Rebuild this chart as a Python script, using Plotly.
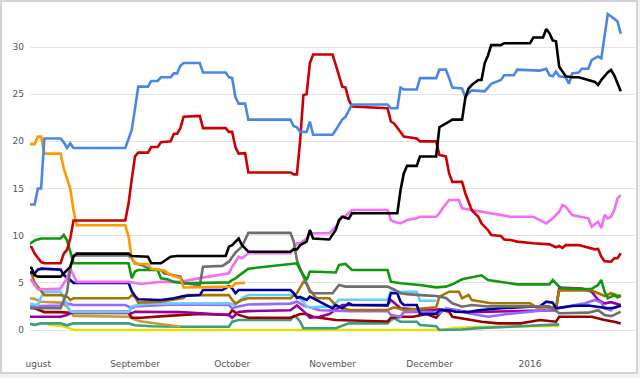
import plotly.graph_objects as go

# ---------------- data (date, polling %) ----------------
blue_series = [
    ("2015-07-30", 13.3), ("2015-08-01", 13.3), ("2015-08-02", 15.0), ("2015-08-03", 15.0),
    ("2015-08-04", 20.3), ("2015-08-09", 20.3), ("2015-08-10", 19.9), ("2015-08-11", 19.3),
    ("2015-08-12", 19.8), ("2015-08-13", 19.3), ("2015-08-29", 19.3), ("2015-08-31", 21.2),
    ("2015-09-01", 23.5), ("2015-09-02", 25.8), ("2015-09-05", 25.8), ("2015-09-06", 26.4),
    ("2015-09-08", 26.4), ("2015-09-09", 26.8), ("2015-09-12", 26.8), ("2015-09-13", 27.2),
    ("2015-09-14", 27.2), ("2015-09-15", 28.0), ("2015-09-16", 28.3), ("2015-09-21", 28.3),
    ("2015-09-22", 27.3), ("2015-09-29", 27.3), ("2015-09-30", 26.8), ("2015-10-01", 26.7),
    ("2015-10-02", 24.7), ("2015-10-03", 24.0), ("2015-10-05", 24.0), ("2015-10-06", 22.3),
    ("2015-10-19", 22.3), ("2015-10-20", 21.6), ("2015-10-21", 21.5), ("2015-10-22", 21.0),
    ("2015-10-24", 21.0), ("2015-10-25", 22.1), ("2015-10-26", 20.7), ("2015-11-01", 20.7),
    ("2015-11-02", 21.2), ("2015-11-04", 22.3), ("2015-11-05", 22.6), ("2015-11-07", 23.9),
    ("2015-11-18", 23.9), ("2015-11-19", 23.5), ("2015-11-21", 23.5), ("2015-11-22", 25.7),
    ("2015-11-23", 25.5), ("2015-11-27", 25.5), ("2015-11-28", 26.7), ("2015-12-03", 26.7),
    ("2015-12-04", 27.6), ("2015-12-06", 27.6), ("2015-12-07", 26.7), ("2015-12-08", 25.7),
    ("2015-12-11", 25.6), ("2015-12-12", 24.7), ("2015-12-13", 25.1), ("2015-12-14", 25.4),
    ("2015-12-18", 25.3), ("2015-12-20", 26.1), ("2015-12-23", 26.5), ("2015-12-24", 27.0),
    ("2015-12-27", 27.0), ("2015-12-28", 27.6), ("2016-01-04", 27.5), ("2016-01-06", 27.7),
    ("2016-01-07", 27.0), ("2016-01-08", 26.9), ("2016-01-09", 27.4), ("2016-01-10", 26.9),
    ("2016-01-12", 26.8), ("2016-01-13", 26.1), ("2016-01-14", 27.2), ("2016-01-16", 27.3),
    ("2016-01-17", 27.7), ("2016-01-19", 27.7), ("2016-01-20", 28.6), ("2016-01-22", 29.0),
    ("2016-01-23", 28.8), ("2016-01-25", 33.5), ("2016-01-27", 33.0), ("2016-01-28", 32.7),
    ("2016-01-29", 31.4),
]

red_series = [
    ("2015-07-30", 8.8), ("2015-07-31", 8.8), ("2015-08-01", 8.1), ("2015-08-03", 7.2),
    ("2015-08-04", 7.07), ("2015-08-09", 7.07), ("2015-08-10", 8.1), ("2015-08-11", 8.5),
    ("2015-08-12", 9.7), ("2015-08-13", 11.6), ("2015-08-29", 11.6), ("2015-08-30", 13.4),
    ("2015-08-31", 16.0), ("2015-09-01", 18.4), ("2015-09-02", 18.8), ("2015-09-05", 18.8),
    ("2015-09-06", 19.4), ("2015-09-08", 19.4), ("2015-09-09", 19.9), ("2015-09-12", 20.0),
    ("2015-09-13", 20.8), ("2015-09-14", 20.8), ("2015-09-15", 21.4), ("2015-09-16", 22.6),
    ("2015-09-21", 22.7), ("2015-09-22", 21.4), ("2015-09-29", 21.4), ("2015-09-30", 21.0),
    ("2015-10-01", 21.0), ("2015-10-02", 19.4), ("2015-10-03", 18.7), ("2015-10-05", 18.75),
    ("2015-10-06", 16.7), ("2015-10-19", 16.7), ("2015-10-20", 16.5), ("2015-10-21", 16.5),
    ("2015-10-22", 20.1), ("2015-10-23", 24.9), ("2015-10-24", 25.0), ("2015-10-25", 28.3),
    ("2015-10-26", 29.2), ("2015-11-01", 29.2), ("2015-11-02", 28.1), ("2015-11-03", 26.9),
    ("2015-11-04", 25.8), ("2015-11-05", 25.7), ("2015-11-06", 24.4), ("2015-11-07", 23.7),
    ("2015-11-18", 23.5), ("2015-11-19", 22.1), ("2015-11-20", 21.9), ("2015-11-22", 21.0),
    ("2015-11-23", 20.5), ("2015-11-27", 20.3), ("2015-11-28", 20.0), ("2015-12-03", 20.0),
    ("2015-12-04", 18.55), ("2015-12-06", 18.4), ("2015-12-07", 16.6), ("2015-12-08", 15.7),
    ("2015-12-11", 15.7), ("2015-12-12", 14.5), ("2015-12-13", 13.6), ("2015-12-14", 12.7),
    ("2015-12-16", 12.0), ("2015-12-17", 11.3), ("2015-12-19", 10.6), ("2015-12-20", 10.07),
    ("2015-12-23", 9.96), ("2015-12-24", 9.6), ("2015-12-26", 9.54), ("2015-12-28", 9.37),
    ("2016-01-02", 9.19), ("2016-01-07", 9.08), ("2016-01-09", 8.77), ("2016-01-10", 8.9),
    ("2016-01-11", 8.7), ("2016-01-12", 9.0), ("2016-01-16", 9.0), ("2016-01-19", 8.77),
    ("2016-01-21", 8.55), ("2016-01-22", 8.6), ("2016-01-23", 7.77), ("2016-01-24", 7.3),
    ("2016-01-26", 7.24), ("2016-01-27", 7.6), ("2016-01-28", 7.6), ("2016-01-29", 8.13),
]

black_series = [
    ("2015-07-30", 6.6), ("2015-07-31", 6.6), ("2015-08-01", 5.8), ("2015-08-02", 5.66),
    ("2015-08-09", 5.66), ("2015-08-10", 6.0), ("2015-08-11", 6.36), ("2015-08-12", 6.7),
    ("2015-08-13", 7.8), ("2015-08-14", 8.1), ("2015-08-30", 8.1), ("2015-08-31", 7.84),
    ("2015-09-05", 7.77), ("2015-09-06", 7.07), ("2015-09-09", 7.07), ("2015-09-11", 7.49),
    ("2015-09-12", 7.77), ("2015-09-14", 7.84), ("2015-09-29", 7.84), ("2015-09-30", 8.83),
    ("2015-10-01", 9.0), ("2015-10-03", 9.7), ("2015-10-04", 9.0), ("2015-10-06", 8.3),
    ("2015-10-19", 8.3), ("2015-10-20", 8.55), ("2015-10-21", 8.55), ("2015-10-22", 9.0),
    ("2015-10-24", 9.37), ("2015-10-25", 10.6), ("2015-10-26", 9.7), ("2015-10-31", 9.6),
    ("2015-11-02", 10.6), ("2015-11-03", 11.66), ("2015-11-04", 12.0), ("2015-11-06", 11.8),
    ("2015-11-07", 12.37), ("2015-11-21", 12.37), ("2015-11-22", 14.84), ("2015-11-23", 16.6),
    ("2015-11-24", 17.4), ("2015-11-27", 17.4), ("2015-11-28", 18.4), ("2015-12-03", 18.4),
    ("2015-12-04", 21.5), ("2015-12-07", 22.1), ("2015-12-08", 22.3), ("2015-12-11", 22.3),
    ("2015-12-12", 24.6), ("2015-12-13", 25.6), ("2015-12-14", 25.97), ("2015-12-16", 26.5),
    ("2015-12-17", 26.5), ("2015-12-18", 28.3), ("2015-12-19", 29.1), ("2015-12-20", 30.2),
    ("2015-12-23", 30.2), ("2015-12-24", 30.4), ("2016-01-01", 30.4), ("2016-01-02", 31.0),
    ("2016-01-05", 31.0), ("2016-01-06", 31.9), ("2016-01-07", 31.45), ("2016-01-08", 30.7),
    ("2016-01-09", 30.6), ("2016-01-10", 27.9), ("2016-01-11", 27.4), ("2016-01-12", 26.9),
    ("2016-01-14", 26.8), ("2016-01-16", 26.8), ("2016-01-19", 26.5), ("2016-01-21", 26.3),
    ("2016-01-22", 25.97), ("2016-01-23", 26.5), ("2016-01-25", 27.3), ("2016-01-26", 27.56),
    ("2016-01-27", 27.0), ("2016-01-29", 25.3),
]

pink_series = [
    ("2015-07-30", 5.3), ("2015-07-31", 5.3), ("2015-08-01", 4.77), ("2015-08-02", 4.3),
    ("2015-08-09", 4.4), ("2015-08-11", 5.5), ("2015-08-12", 6.5), ("2015-08-13", 5.8),
    ("2015-08-14", 5.1), ("2015-08-30", 5.1), ("2015-09-01", 5.0), ("2015-09-03", 4.88),
    ("2015-09-09", 5.12), ("2015-09-15", 5.1), ("2015-09-21", 5.5), ("2015-09-30", 6.0),
    ("2015-10-01", 6.7), ("2015-10-03", 7.77), ("2015-10-04", 7.6), ("2015-10-06", 8.13),
    ("2015-10-19", 8.13), ("2015-10-20", 8.66), ("2015-10-21", 9.19), ("2015-10-22", 9.19),
    ("2015-10-24", 9.7), ("2015-10-25", 10.25), ("2015-10-31", 10.25), ("2015-11-02", 10.95),
    ("2015-11-03", 11.48), ("2015-11-04", 12.0), ("2015-11-05", 12.08), ("2015-11-07", 12.72),
    ("2015-11-18", 12.72), ("2015-11-19", 11.66), ("2015-11-20", 11.48), ("2015-11-22", 11.3),
    ("2015-11-24", 11.66), ("2015-11-27", 11.84), ("2015-11-28", 12.0), ("2015-12-03", 12.0),
    ("2015-12-04", 12.37), ("2015-12-05", 12.9), ("2015-12-07", 13.78), ("2015-12-10", 13.78),
    ("2015-12-11", 12.9), ("2015-12-14", 12.72), ("2015-12-17", 12.54), ("2015-12-20", 12.37),
    ("2015-12-23", 12.19), ("2015-12-26", 12.0), ("2016-01-02", 12.0), ("2016-01-04", 11.66),
    ("2016-01-06", 11.3), ("2016-01-08", 11.84), ("2016-01-10", 12.54), ("2016-01-11", 13.25),
    ("2016-01-12", 13.07), ("2016-01-14", 12.19), ("2016-01-17", 12.0), ("2016-01-19", 11.84),
    ("2016-01-20", 10.95), ("2016-01-22", 11.48), ("2016-01-23", 10.8), ("2016-01-24", 12.19),
    ("2016-01-25", 11.84), ("2016-01-26", 12.0), ("2016-01-27", 12.72), ("2016-01-28", 13.96),
    ("2016-01-29", 14.3),
]

green_series = [
    ("2015-07-30", 9.0), ("2015-08-01", 9.5), ("2015-08-03", 9.7), ("2015-08-09", 9.7),
    ("2015-08-10", 10.07), ("2015-08-11", 9.5), ("2015-08-12", 8.3), ("2015-08-13", 7.07),
    ("2015-08-30", 7.07), ("2015-08-31", 5.5), ("2015-09-01", 6.2), ("2015-09-02", 6.36),
    ("2015-09-08", 6.36), ("2015-09-09", 5.48), ("2015-09-11", 5.37), ("2015-09-13", 5.1),
    ("2015-09-16", 4.95), ("2015-09-30", 5.05), ("2015-10-01", 5.3), ("2015-10-02", 5.48),
    ("2015-10-04", 6.0), ("2015-10-06", 6.5), ("2015-10-19", 7.0), ("2015-10-21", 7.07),
    ("2015-10-22", 6.36), ("2015-10-24", 5.3), ("2015-10-25", 6.2), ("2015-11-02", 6.1),
    ("2015-11-03", 6.9), ("2015-11-05", 7.0), ("2015-11-07", 6.36), ("2015-11-18", 6.36),
    ("2015-11-19", 5.12), ("2015-11-22", 4.95), ("2015-11-28", 4.77), ("2015-12-03", 4.52),
    ("2015-12-06", 4.6), ("2015-12-08", 4.84), ("2015-12-11", 5.37), ("2015-12-14", 5.6),
    ("2015-12-17", 5.8), ("2015-12-19", 5.3), ("2015-12-23", 5.12), ("2015-12-26", 5.0),
    ("2015-12-28", 4.84), ("2016-01-07", 4.84), ("2016-01-08", 5.3), ("2016-01-10", 4.6),
    ("2016-01-11", 4.42), ("2016-01-17", 4.35), ("2016-01-20", 4.35), ("2016-01-22", 4.77),
    ("2016-01-23", 5.3), ("2016-01-24", 4.06), ("2016-01-25", 3.36), ("2016-01-27", 3.7),
    ("2016-01-28", 3.46), ("2016-01-29", 3.7),
]

orange_series = [
    ("2015-07-30", 19.7), ("2015-08-01", 19.7), ("2015-08-02", 20.5), ("2015-08-03", 20.5),
    ("2015-08-04", 18.7), ("2015-08-09", 18.7), ("2015-08-10", 17.1), ("2015-08-12", 15.0),
    ("2015-08-13", 12.7), ("2015-08-14", 11.1), ("2015-08-29", 11.1), ("2015-08-30", 9.9),
    ("2015-08-31", 7.6), ("2015-09-01", 7.0), ("2015-09-05", 7.0), ("2015-09-06", 6.5),
    ("2015-09-10", 6.3), ("2015-09-12", 5.83), ("2015-09-15", 5.5), ("2015-09-16", 4.5),
    ("2015-10-01", 4.6), ("2015-10-02", 4.95), ("2015-10-05", 5.0),
]

gray_series = [
    ("2015-07-30", 2.3), ("2015-08-09", 2.3), ("2015-08-11", 4.0), ("2015-08-12", 6.5),
    ("2015-08-13", 7.9), ("2015-08-30", 7.9), ("2015-08-31", 7.6), ("2015-09-01", 7.07),
    ("2015-09-03", 6.9), ("2015-09-06", 6.4), ("2015-09-09", 6.36), ("2015-09-10", 6.0),
    ("2015-09-15", 5.66), ("2015-09-16", 4.95), ("2015-09-21", 4.77), ("2015-09-22", 6.7),
    ("2015-09-28", 6.8), ("2015-09-30", 7.24), ("2015-10-02", 8.2), ("2015-10-03", 8.5),
    ("2015-10-04", 8.83), ("2015-10-06", 10.3), ("2015-10-19", 10.3), ("2015-10-20", 9.37),
    ("2015-10-21", 7.4), ("2015-10-23", 5.66), ("2015-10-25", 4.06), ("2015-10-26", 3.9),
    ("2015-11-01", 3.9), ("2015-11-03", 4.77), ("2015-11-05", 4.6), ("2015-11-18", 4.6),
    ("2015-11-20", 4.3), ("2015-11-22", 3.9), ("2015-11-24", 3.8), ("2015-11-28", 3.7),
    ("2015-12-03", 3.6), ("2015-12-06", 3.4), ("2015-12-08", 2.83), ("2015-12-11", 2.47),
    ("2015-12-14", 2.65), ("2015-12-19", 2.5), ("2016-01-07", 2.5), ("2016-01-10", 1.77),
    ("2016-01-16", 1.77), ("2016-01-19", 1.84), ("2016-01-22", 2.1), ("2016-01-24", 1.6),
    ("2016-01-26", 1.48), ("2016-01-27", 1.6), ("2016-01-29", 1.94),
]

navy_series = [
    ("2015-07-30", 6.2), ("2015-08-01", 6.0), ("2015-08-02", 6.4), ("2015-08-03", 6.5),
    ("2015-08-09", 6.4), ("2015-08-10", 5.83), ("2015-08-12", 5.3), ("2015-08-13", 5.0),
    ("2015-08-30", 5.0), ("2015-08-31", 4.1), ("2015-09-01", 3.6), ("2015-09-02", 3.25),
    ("2015-09-09", 3.18), ("2015-09-13", 3.36), ("2015-09-16", 3.6), ("2015-09-21", 3.7),
    ("2015-09-22", 4.24), ("2015-09-28", 4.24), ("2015-09-30", 4.66), ("2015-10-01", 4.42),
    ("2015-10-02", 3.9), ("2015-10-03", 4.24), ("2015-10-19", 4.24), ("2015-10-20", 3.9),
    ("2015-10-21", 3.4), ("2015-10-22", 3.5), ("2015-10-24", 3.18), ("2015-10-25", 3.53),
    ("2015-10-28", 3.0), ("2015-10-31", 2.5), ("2015-11-01", 2.3), ("2015-11-02", 2.65),
    ("2015-11-04", 2.3), ("2015-11-06", 2.83), ("2015-11-07", 2.65), ("2015-11-18", 2.6),
    ("2015-11-19", 3.9), ("2015-11-21", 3.9), ("2015-11-22", 3.0), ("2015-11-23", 2.65),
    ("2015-11-27", 2.65), ("2015-11-28", 1.7), ("2015-12-03", 1.7), ("2015-12-04", 2.1),
    ("2015-12-07", 2.1), ("2015-12-09", 1.94), ("2015-12-13", 1.9), ("2015-12-16", 2.1),
    ("2015-12-23", 2.3), ("2016-01-01", 2.47), ("2016-01-04", 2.5), ("2016-01-06", 3.0),
    ("2016-01-08", 2.9), ("2016-01-09", 2.3), ("2016-01-12", 2.4), ("2016-01-14", 2.54),
    ("2016-01-19", 2.6), ("2016-01-21", 2.5), ("2016-01-23", 2.4), ("2016-01-25", 2.3),
    ("2016-01-27", 2.35), ("2016-01-29", 2.6),
]

lightblue_series = [
    ("2015-07-30", 2.8), ("2015-08-02", 2.65), ("2015-08-03", 3.5), ("2015-08-04", 4.07),
    ("2015-08-09", 4.07), ("2015-08-10", 3.4), ("2015-08-12", 2.0), ("2015-08-13", 1.9),
    ("2015-08-30", 1.9), ("2015-08-31", 2.5), ("2015-09-02", 2.65), ("2015-09-06", 2.8),
    ("2015-09-30", 2.83), ("2015-10-02", 2.65), ("2015-10-04", 3.36), ("2015-10-06", 3.71),
    ("2015-10-19", 3.71), ("2015-10-21", 3.6), ("2015-10-23", 3.0), ("2015-10-24", 2.5),
    ("2015-10-25", 2.4), ("2015-11-01", 2.5), ("2015-11-03", 3.2), ("2015-11-18", 3.2),
    ("2015-11-19", 4.06), ("2015-11-27", 4.06), ("2015-11-28", 3.1), ("2015-12-03", 3.1),
]

lightpurple_series = [
    ("2015-07-30", 2.5), ("2015-08-09", 2.6), ("2015-08-10", 2.9), ("2015-08-13", 2.65),
    ("2015-08-29", 2.65), ("2015-08-31", 2.3), ("2015-09-01", 2.5), ("2015-09-13", 2.7),
    ("2015-09-30", 2.65), ("2015-10-01", 2.3), ("2015-10-03", 2.5), ("2015-10-06", 2.7),
    ("2015-10-19", 2.8), ("2015-10-21", 3.0), ("2015-10-23", 2.6), ("2015-10-28", 2.1),
    ("2015-11-06", 2.0), ("2015-11-18", 2.0), ("2015-11-19", 1.6), ("2015-11-22", 1.4),
    ("2015-11-23", 1.9), ("2015-12-01", 1.94), ("2015-12-04", 1.77), ("2015-12-06", 2.3),
    ("2015-12-10", 2.1), ("2015-12-13", 1.77), ("2015-12-19", 1.41), ("2015-12-25", 1.7),
    ("2016-01-01", 1.94), ("2016-01-06", 2.1), ("2016-01-11", 2.4), ("2016-01-18", 2.83),
    ("2016-01-21", 3.18), ("2016-01-23", 2.9), ("2016-01-24", 2.3), ("2016-01-26", 2.1),
    ("2016-01-27", 2.4), ("2016-01-29", 2.54),
]

magenta_series = [
    ("2015-07-30", 1.4), ("2015-08-09", 1.4), ("2015-08-11", 1.6), ("2015-08-13", 1.94),
    ("2015-08-30", 1.94), ("2015-08-31", 1.77), ("2015-09-01", 1.94), ("2015-09-15", 1.9),
    ("2015-09-30", 1.6), ("2015-10-01", 1.3), ("2015-10-03", 1.9), ("2015-10-06", 2.0),
    ("2015-10-19", 2.1), ("2015-10-21", 2.6), ("2015-10-23", 2.0), ("2015-10-25", 1.3),
    ("2015-10-28", 1.4), ("2015-10-31", 1.7), ("2015-11-04", 2.65), ("2015-11-18", 2.65),
    ("2015-11-19", 3.18), ("2015-11-21", 2.6), ("2015-11-22", 2.3), ("2015-12-01", 2.1),
    ("2015-12-04", 2.2), ("2015-12-13", 1.9), ("2015-12-29", 2.0), ("2016-01-09", 2.1),
    ("2016-01-10", 4.5), ("2016-01-17", 4.4), ("2016-01-20", 4.06), ("2016-01-22", 3.2),
    ("2016-01-24", 2.83), ("2016-01-26", 2.95), ("2016-01-29", 2.65),
]

ochre_series = [
    ("2015-07-30", 6.2), ("2015-07-31", 6.0), ("2015-08-01", 5.0), ("2015-08-03", 4.2),
    ("2015-08-04", 3.7), ("2015-08-09", 3.7), ("2015-08-11", 3.53), ("2015-08-12", 3.18),
    ("2015-08-13", 3.36), ("2015-08-30", 3.36), ("2015-08-31", 3.7), ("2015-09-01", 3.5),
    ("2015-09-02", 2.9), ("2015-09-09", 3.0), ("2015-09-12", 3.18), ("2015-09-16", 3.4),
    ("2015-09-17", 3.7), ("2015-09-30", 3.7), ("2015-10-01", 3.18), ("2015-10-02", 2.83),
    ("2015-10-04", 3.18), ("2015-10-06", 3.36), ("2015-10-19", 3.36), ("2015-10-21", 3.9),
    ("2015-10-23", 5.1), ("2015-10-24", 4.95), ("2015-10-25", 4.24), ("2015-10-27", 3.36),
    ("2015-10-31", 3.36), ("2015-11-02", 2.6), ("2015-11-06", 2.12), ("2015-11-18", 2.12),
    ("2015-11-20", 2.4), ("2015-11-23", 2.12), ("2015-12-03", 2.4), ("2015-12-04", 3.53),
    ("2015-12-07", 4.06), ("2015-12-10", 4.06), ("2015-12-11", 3.36), ("2015-12-13", 3.71),
    ("2015-12-14", 3.18), ("2015-12-17", 3.0), ("2015-12-20", 2.83), ("2016-01-01", 2.83),
    ("2016-01-03", 2.4), ("2016-01-09", 2.4), ("2016-01-10", 4.2), ("2016-01-20", 4.2),
    ("2016-01-23", 3.7), ("2016-01-24", 3.6), ("2016-01-26", 3.9), ("2016-01-29", 3.53),
]

tan_series = [
    ("2015-07-30", 3.4), ("2015-08-01", 3.3), ("2015-08-03", 3.0), ("2015-08-09", 2.9),
    ("2015-08-11", 2.5), ("2015-08-13", 1.5), ("2015-08-30", 1.4), ("2015-09-01", 1.1),
    ("2015-09-03", 0.9), ("2015-09-08", 0.7), ("2015-09-12", 0.5), ("2015-09-15", 0.35),
]

darkred_series = [
    ("2015-07-30", 2.4), ("2015-08-01", 2.3), ("2015-08-04", 1.9), ("2015-08-09", 1.9),
    ("2015-08-13", 1.8), ("2015-08-30", 1.8), ("2015-08-31", 1.3), ("2015-09-03", 1.3),
    ("2015-09-11", 1.5), ("2015-09-21", 1.7), ("2015-09-30", 1.6), ("2015-10-01", 2.1),
    ("2015-10-03", 1.6), ("2015-10-06", 1.3), ("2015-10-19", 1.3), ("2015-10-22", 1.7),
    ("2015-10-24", 1.7), ("2015-10-26", 1.4), ("2015-10-28", 1.3), ("2015-11-02", 1.06),
    ("2015-11-18", 0.9), ("2015-11-19", 1.3), ("2015-11-23", 1.41), ("2015-11-26", 1.41),
    ("2015-11-30", 1.7), ("2015-12-03", 1.3), ("2015-12-05", 2.1), ("2015-12-07", 1.94),
    ("2015-12-08", 1.41), ("2015-12-11", 1.24), ("2015-12-14", 1.06), ("2015-12-17", 0.88),
    ("2015-12-22", 0.7), ("2015-12-29", 0.7), ("2016-01-01", 0.88), ("2016-01-04", 1.06),
    ("2016-01-09", 0.88), ("2016-01-10", 1.41), ("2016-01-20", 1.41), ("2016-01-24", 1.06),
    ("2016-01-27", 0.88), ("2016-01-29", 0.7),
]

teal_series = [
    ("2015-07-30", 0.7), ("2015-08-01", 0.55), ("2015-08-03", 0.7), ("2015-08-09", 0.7),
    ("2015-08-11", 0.5), ("2015-08-13", 0.7), ("2015-08-30", 0.7), ("2015-09-01", 0.5),
    ("2015-09-06", 0.4), ("2015-09-15", 0.35), ("2015-09-30", 0.35), ("2015-10-01", 0.88),
    ("2015-10-03", 1.06), ("2015-10-19", 1.06), ("2015-10-20", 1.5), ("2015-10-21", 1.3),
    ("2015-10-22", 0.88), ("2015-10-23", 0.18), ("2015-11-02", 0.18), ("2015-11-03", 0.3),
    ("2015-11-06", 0.7), ("2015-11-18", 0.7), ("2015-11-19", 1.06), ("2015-11-20", 1.24),
    ("2015-11-22", 0.88), ("2015-11-27", 0.88), ("2015-11-28", 0.53), ("2015-12-03", 0.4),
    ("2015-12-04", 0.0), ("2015-12-11", 0.05), ("2015-12-16", 0.2), ("2015-12-29", 0.4),
    ("2016-01-07", 0.55), ("2016-01-10", 0.6),
]

yellow_series = [
    ("2015-08-05", 0.55), ("2015-08-07", 0.5), ("2015-08-09", 0.45), ("2015-08-11", 0.3),
    ("2015-08-13", 0.0), ("2015-12-04", 0.0), ("2015-12-09", 0.2), ("2015-12-16", 0.3),
    ("2015-12-29", 0.4), ("2016-01-07", 0.45), ("2016-01-10", 0.45),
]

tick_dates = ["2015-08-02 03:00", "2015-09-01", "2015-10-01", "2015-11-01", "2015-12-01", "2016-01-01"]
tick_labels = ["ugust", "September", "October", "November", "December", "2016"]
y_ticks = [0, 5, 10, 15, 20, 25, 30]

# drawing order: bottom -> top
series_styles = [
    (yellow_series, "#e2e200"),
    (teal_series, "#3f9c7e"),
    (tan_series, "#c49a3c"),
    (darkred_series, "#990000"),
    (magenta_series, "#990099"),
    (lightpurple_series, "#9966ff"),
    (lightblue_series, "#66ccff"),
    (ochre_series, "#a87300"),
    (navy_series, "#000099"),
    (pink_series, "#f56cf5"),
    (gray_series, "#6e6e6e"),
    (green_series, "#109910"),
    (orange_series, "#ff9900"),
    (red_series, "#cc0000"),
    (blue_series, "#4a86e8"),
    (black_series, "#000000"),
]

fig = go.Figure()
for data, color in series_styles:
    fig.add_trace(go.Scatter(
        x=[d for d, _ in data], y=[v for _, v in data],
        mode="lines", line=dict(color=color, width=2.6),
        hoverinfo="skip", showlegend=False,
    ))

# layout geometry (px): plot area x 30..635, y 7..350
L, R, T, B = 30, 5, 7, 28
PW, PH = 640 - L - R, 378 - T - B

def px_to_paper_x(px):
    return (px - L) / PW

def py_to_paper_y(py):
    return (378 - B - py) / PH

fig.update_layout(
    width=640, height=378,
    margin=dict(l=L, r=R, t=T, b=B),
    paper_bgcolor="#f2f2f2",
    plot_bgcolor="#fafafd",
    font=dict(family="DejaVu Sans", size=9, color="#555555"),
    showlegend=False,
    hovermode=False,
    shapes=[dict(
        type="rect", xref="paper", yref="paper", layer="below",
        x0=px_to_paper_x(1), x1=px_to_paper_x(637),
        y0=py_to_paper_y(373), y1=py_to_paper_y(1),
        fillcolor="white", line=dict(color="#d3d3d3", width=2),
    )],
)
fig.update_xaxes(
    type="date",
    range=["2015-07-30 13:40", "2016-02-02 09:40"],
    tickmode="array", tickvals=tick_dates, ticktext=tick_labels,
    showgrid=False, zeroline=False, showline=False, ticks="",
    ticklabelstandoff=7,
    tickfont=dict(size=9, color="#555555"),
)
fig.update_yaxes(
    range=[-2.12, 34.24],
    tickmode="array", tickvals=y_ticks,
    showgrid=True, gridcolor="#e2e2e8", gridwidth=1,
    zeroline=False, showline=False, ticks="",
    ticklabelstandoff=5,
    tickfont=dict(size=9, color="#555555"),
)

fig.write_html(
    "out.html",
    config={"displayModeBar": False, "staticPlot": True},
    post_script="document.body.style.margin='0';document.body.style.overflow='hidden';",
)
